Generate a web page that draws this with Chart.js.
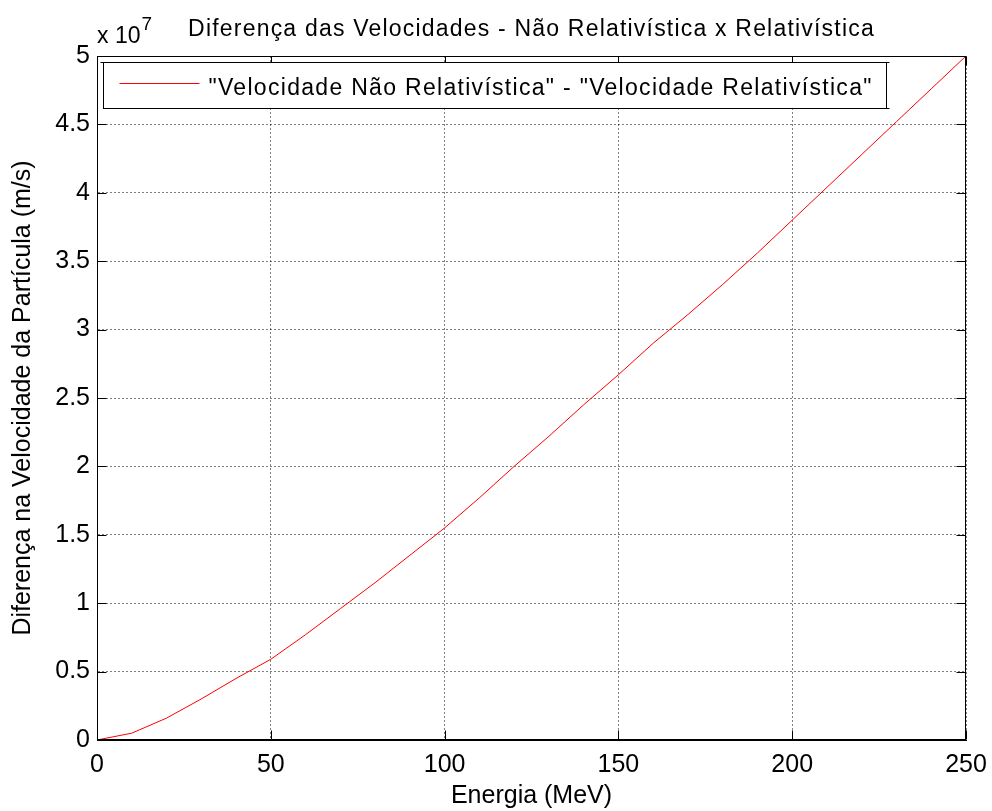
<!DOCTYPE html>
<html>
<head>
<meta charset="utf-8">
<script src="https://cdn.jsdelivr.net/npm/chart.js@4"></script>
<style>
  body { margin: 0; background: #fff; }
  #wrap { width: 992px; height: 811px; }
</style>
</head>
<body>
<div id="wrap"><canvas id="canvas"></canvas></div>
<script>
// energia (MeV) e diferença de velocidade (m/s)
var energia = [0, 10, 20, 30, 40, 50, 60, 70, 80, 90, 100, 110, 120, 130, 140,
   150, 160, 170, 180, 190, 200, 210, 220, 230, 240, 250];
var diferenca = [0, 0.05e7, 0.16e7, 0.30e7, 0.45e7, 0.59e7, 0.77e7, 0.96e7, 1.15e7, 1.35e7,
   1.55e7, 1.77e7, 2.00e7, 2.22e7, 2.45e7, 2.67e7, 2.90e7, 3.11e7, 3.33e7, 3.56e7,
   3.80e7, 4.04e7, 4.28e7, 4.52e7, 4.76e7, 5.00e7];
var xTicks = [0, 50, 100, 150, 200, 250];
var yTicks = [0, 0.5, 1, 1.5, 2, 2.5, 3, 3.5, 4, 4.5, 5];

var titulo = 'Diferença das Velocidades - Não Relativística x Relativística';
var legenda = '"Velocidade Não Relativística" - "Velocidade Relativística"';

var pontos = energia.map(function (e, i) { return { x: e, y: diferenca[i] }; });

var FONT = '"Liberation Sans", Arial, Helvetica, sans-serif';

// moldura, marcas internas, título, legenda e multiplicador (estilo MATLAB)
var matlabPlugin = {
   id: 'matlab',
   beforeDraw: function (chart) {
      var ctx = chart.ctx;
      ctx.save();
      ctx.fillStyle = '#fff';
      ctx.fillRect(0, 0, chart.width, chart.height);
      ctx.restore();
   },
   afterDraw: function (chart) {
      var ctx = chart.ctx;
      var a = chart.chartArea;
      var xs = chart.scales.x, ys = chart.scales.y;
      var L = Math.round(a.left) + 0.5, R = Math.round(a.right) - 0.5;
      var T = Math.round(a.top) + 0.5, B = Math.round(a.bottom) - 0.5;
      var tk = 9;
      ctx.save();
      ctx.strokeStyle = '#000';
      ctx.lineWidth = 1;
      ctx.beginPath();
      xTicks.forEach(function (v) {
         var px = Math.round(xs.getPixelForValue(v)) + 0.5;
         ctx.moveTo(px, B); ctx.lineTo(px, B - tk);
         ctx.moveTo(px, T); ctx.lineTo(px, T + tk);
      });
      yTicks.forEach(function (v) {
         var py = Math.round(ys.getPixelForValue(v * 1e7)) + 0.5;
         ctx.moveTo(L, py); ctx.lineTo(L + tk, py);
         ctx.moveTo(R, py); ctx.lineTo(R - tk, py);
      });
      ctx.stroke();
      ctx.strokeRect(L, T, R - L, B - T);

      // título
      ctx.fillStyle = '#000';
      ctx.letterSpacing = '1.2px';
      ctx.font = '23px ' + FONT;
      ctx.textAlign = 'center';
      ctx.textBaseline = 'alphabetic';
      ctx.fillText(titulo, (a.left + a.right) / 2, 36);

      // multiplicador x 10^7
      ctx.letterSpacing = '0px';
      ctx.textAlign = 'left';
      ctx.font = '23px ' + FONT;
      ctx.fillText('x 10', 97, 43);
      var w = ctx.measureText('x 10').width;
      ctx.font = '19px ' + FONT;
      ctx.fillText('7', 97 + w + 1, 30);

      // legenda
      var lx = L + 6, ly = T + 6, lw = 783, lh = 46;
      ctx.fillStyle = '#fff';
      ctx.fillRect(lx, ly, lw, lh);
      ctx.strokeStyle = '#000';
      ctx.strokeRect(lx, ly, lw, lh);
      ctx.beginPath();
      ctx.moveTo(lx, ly); ctx.lineTo(lx - 3, ly);
      ctx.moveTo(lx + lw, ly); ctx.lineTo(lx + lw + 3, ly);
      ctx.moveTo(lx + lw, ly + lh); ctx.lineTo(lx + lw + 3, ly + lh);
      ctx.stroke();
      ctx.strokeStyle = '#ff0000';
      ctx.beginPath();
      ctx.moveTo(lx + 16, ly + 21); ctx.lineTo(lx + 96, ly + 21);
      ctx.stroke();
      ctx.fillStyle = '#000';
      ctx.letterSpacing = '1.3px';
      ctx.font = '23px ' + FONT;
      ctx.fillText(legenda, lx + 105, ly + 32);
      ctx.letterSpacing = '0px';
      ctx.restore();
   }
};

window.onload = function () {
   var ctx = document.getElementById('canvas').getContext('2d');
   window.myLine = new Chart(ctx, {
      type: 'line',
      data: {
         datasets: [{
            label: legenda,
            data: pontos,
            borderColor: '#ff0000',
            borderWidth: 1,
            pointRadius: 0,
            tension: 0,
            fill: false
         }]
      },
      options: {
         responsive: true,
         maintainAspectRatio: false,
         animation: false,
         layout: {
            padding: { left: 8, right: 26, top: 56, bottom: 0 }
         },
         plugins: {
            legend: { display: false },
            title: { display: false },
            tooltip: { enabled: false }
         },
         scales: {
            x: {
               type: 'linear',
               min: 0,
               max: 250,
               afterFit: function (scale) {
                  scale.height = 71;
                  scale.paddingLeft = 0;
                  scale.paddingRight = 0;
               },
               afterBuildTicks: function (scale) {
                  scale.ticks = xTicks.map(function (v) { return { value: v }; });
               },
               ticks: {
                  color: '#000',
                  padding: 10,
                  maxRotation: 0,
                  font: { family: FONT, size: 25 }
               },
               grid: {
                  color: 'rgba(0,0,0,0.5)',
                  lineWidth: 1,
                  drawTicks: false
               },
               border: { display: true, color: '#000', dash: [2, 2] },
               title: {
                  display: true,
                  text: 'Energia (MeV)',
                  color: '#000',
                  font: { family: FONT, size: 25 },
                  padding: { top: 0, bottom: 0 }
               }
            },
            y: {
               min: 0,
               max: 5e7,
               afterFit: function (scale) {
                  scale.width = 89;
                  scale.paddingTop = 0;
                  scale.paddingBottom = 0;
               },
               afterBuildTicks: function (scale) {
                  scale.ticks = yTicks.map(function (v) { return { value: v * 1e7 }; });
               },
               ticks: {
                  color: '#000',
                  padding: 7,
                  font: { family: FONT, size: 25 },
                  callback: function (v) { return String(+(v / 1e7).toFixed(1)); }
               },
               grid: {
                  color: 'rgba(0,0,0,0.5)',
                  lineWidth: 1,
                  drawTicks: false
               },
               border: { display: true, color: '#000', dash: [2, 2] },
               title: {
                  display: true,
                  text: 'Diferença na Velocidade da Partícula (m/s)',
                  color: '#000',
                  font: { family: FONT, size: 25 },
                  padding: { top: 0, bottom: 0 }
               }
            }
         }
      },
      plugins: [matlabPlugin]
   });
};
</script>
</body>
</html>
